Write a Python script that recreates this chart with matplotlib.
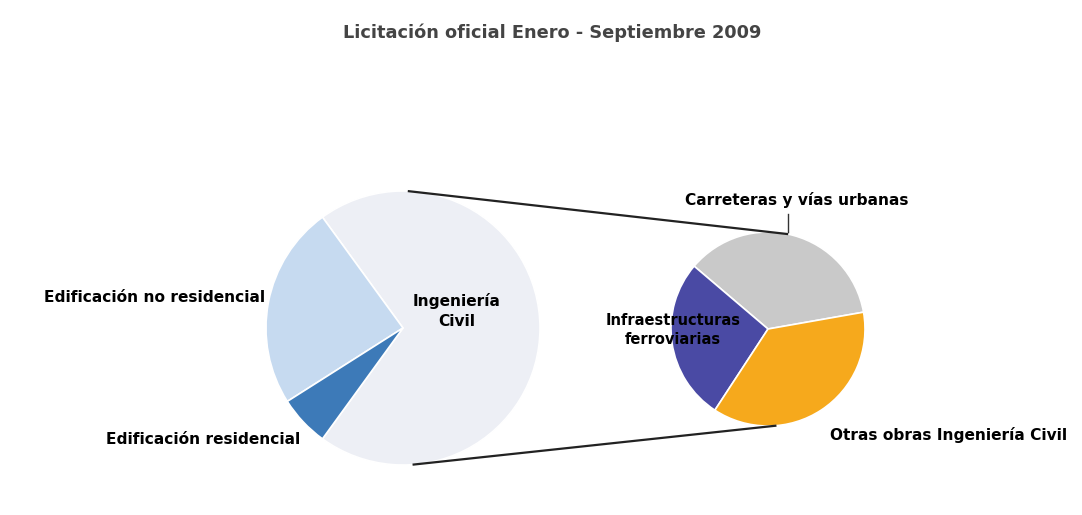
import numpy as np
import matplotlib
matplotlib.use('Agg')
import matplotlib.pyplot as plt

plt.rcParams['font.family'] = ['DejaVu Sans']

TITLE = 'Licitación oficial Enero - Septiembre 2009'

# main pie: share of total
main_labels = ['Ingeniería\nCivil', 'Edificación no residencial', 'Edificación residencial']
main_values = [70, 24, 6]
main_colors = ['#EDEFF5', '#C6DAF0', '#3D7AB8']

# secondary pie: breakdown of Ingeniería Civil
sub_labels = ['Carreteras y vías urbanas', 'Infraestructuras\nferroviarias',
              'Otras obras Ingeniería Civil']
sub_values = [36, 27, 37]
sub_colors = ['#C9C9C9', '#4A4AA4', '#F6A91C']

W, H = 1082, 515
fig = plt.figure(figsize=(W / 100, H / 100), dpi=100)
ax = fig.add_axes([0, 0, 1, 1])

# geometry in pixel units (y measured from the bottom)
c1, r1 = (403, H - 328), 137
c2, r2 = (768, H - 329), 97

civil_angle = main_values[0] / sum(main_values) * 360
ax.pie(main_values, colors=main_colors, center=c1, radius=r1,
       startangle=-civil_angle / 2, counterclock=True,
       wedgeprops=dict(edgecolor='white', linewidth=1.2))
ax.pie(sub_values, colors=sub_colors, center=c2, radius=r2,
       startangle=10, counterclock=True,
       wedgeprops=dict(edgecolor='white', linewidth=1.2))
ax.set_xlim(0, W)
ax.set_ylim(0, H)
ax.set_aspect('equal')
ax.axis('off')


def pt(c, r, deg):
    a = np.deg2rad(deg)
    return c[0] + r * np.cos(a), c[1] + r * np.sin(a)


# connector lines between the pies
for a1, a2 in [(88, 78), (-86, -85)]:
    x0, y0 = pt(c1, r1, a1)
    x1, y1 = pt(c2, r2, a2)
    ax.plot([x0, x1], [y0, y1], color='#222222', lw=1.6, solid_capstyle='butt')

# leader for Carreteras label
lx, ly = pt(c2, r2, 78)
ax.plot([lx, lx], [ly + 2, ly + 20], color='#333333', lw=1)

fs = 11.1
ax.text(552, H - 33, TITLE, ha='center', va='center', fontsize=12.8,
        fontweight='bold', color='#444444')
ax.text(265, H - 298, main_labels[1], ha='right', va='center', fontsize=fs, fontweight='bold')
ax.text(300, H - 440, main_labels[2], ha='right', va='center', fontsize=fs, fontweight='bold')
ax.text(457, H - 311, main_labels[0], ha='center', va='center', fontsize=fs,
        fontweight='bold', linespacing=1.4)
ax.text(797, H - 200, sub_labels[0], ha='center', va='center', fontsize=fs, fontweight='bold')
ax.text(673, H - 330, sub_labels[1], ha='center', va='center', fontsize=fs * 0.95,
        fontweight='bold', linespacing=1.4)
ax.text(830, H - 435, sub_labels[2], ha='left', va='center', fontsize=fs, fontweight='bold')

fig.savefig('out.png', dpi=100)
